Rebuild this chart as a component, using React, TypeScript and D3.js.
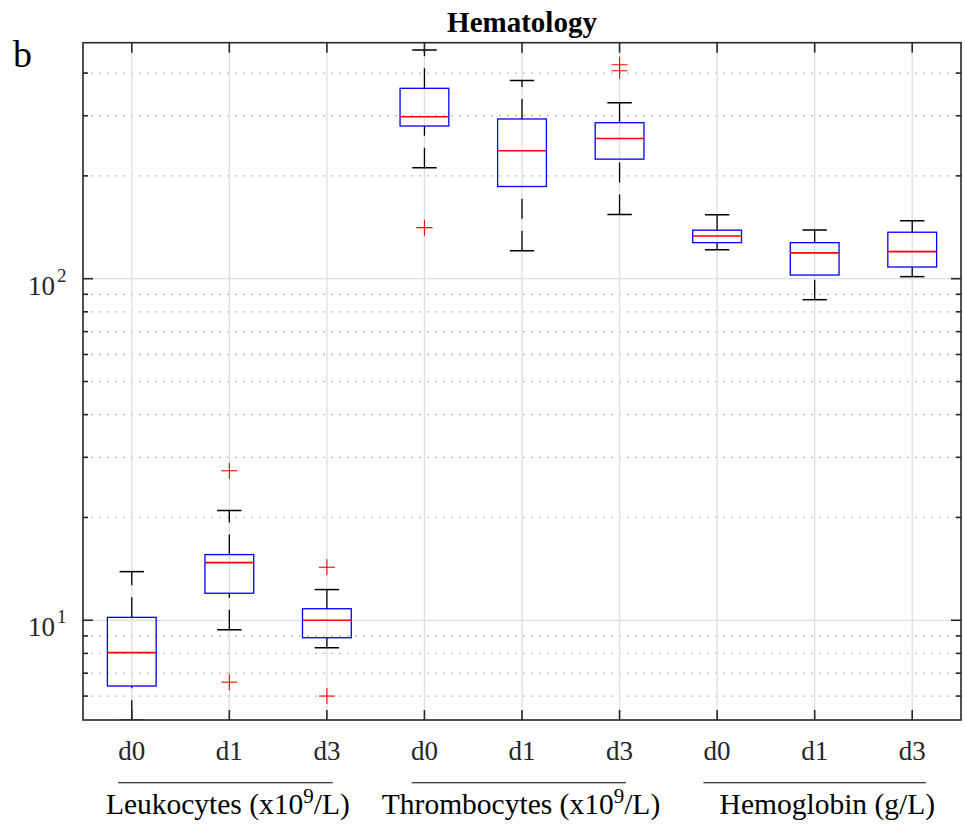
import React from 'react';
import * as d3 from 'd3';

// ---------- data ----------
const categories = ['d0', 'd1', 'd3', 'd0', 'd1', 'd3', 'd0', 'd1', 'd3'];
const whiskerLow = [5.1, 9.38, 8.31, 211.3, 120.8, 154.1, 121.6, 86.8, 101.4];
const quartile1 = [6.42, 12.0, 8.89, 279.9, 186.2, 223.9, 127.5, 102.5, 108.2];
const medians = [8.04, 14.75, 10.0, 298.0, 236.9, 257.4, 133.4, 119.0, 120.0];
const quartile3 = [10.2, 15.57, 10.81, 360.9, 293.5, 286.2, 138.7, 127.5, 136.8];
const whiskerHigh = [13.88, 20.96, 12.3, 467.2, 380.7, 327.6, 153.8, 138.9, 147.9];
const outliers = [[], [27.4, 6.59], [14.3, 6.0], [141.1], [], [406.4, 423.2], [], [], []];

const groupBase = ['Leukocytes (x10', 'Thrombocytes (x10', 'Hemoglobin (g/L)'];
const groupSup = ['9', '9', ''];
const groupTail = ['/L)', '/L)', ''];
const groupFirst = [1, 4, 7];
const groupLast = [3, 6, 9];

const yDomain = [5.106, 490.8];
const yMajorTicks = [10, 100];
const yMajorExp = ['1', '2'];
const yMinorTicks = [6, 7, 8, 9, 20, 30, 40, 50, 60, 70, 80, 90, 200, 300, 400];

const title = 'Hematology';
const panelLetter = 'b';

// ---------- layout ----------
const W = 965;
const H = 825;
const L = 83;
const R = 961;
const T = 42.7;
const B = 720;
const FONT = '"Liberation Serif", "Times New Roman", serif';
const AX = '#262626';

// group decoration offsets (category units)
const lineStartOff = [-0.14, -0.13, -0.14];
const lineEndOff = [0.06, 0.065, 0.14];
const labelOff = [-0.015, -0.01, 0.13];

export default function App() {
  const x = d3.scaleLinear().domain([0.5, 9.5]).range([L, R]);
  const y = d3.scaleLog().domain(yDomain).range([B, T]);
  const step = x(2) - x(1);
  const boxW = step * 0.5;
  const capW = step * 0.25;
  const idx = d3.range(categories.length);

  return (
    <svg
      width={W}
      height={H}
      style={{ position: 'absolute', left: 0, top: 0, background: '#fff' }}
      fontFamily={FONT}
    >
      <rect x={0} y={0} width={W} height={H} fill="#fff" />
      <defs>
        <clipPath id="plotclip">
          <rect x={L} y={T} width={R - L} height={B - T} />
        </clipPath>
      </defs>

      {/* grid */}
      <g>
        {yMinorTicks.map((v) => (
          <line
            key={'mg' + v}
            x1={L}
            x2={R}
            y1={y(v)}
            y2={y(v)}
            stroke="#bdbdbd"
            strokeWidth={1.3}
            strokeDasharray="2,6"
          />
        ))}
        {yMajorTicks.map((v) => (
          <line key={'Mg' + v} x1={L} x2={R} y1={y(v)} y2={y(v)} stroke="#dedede" strokeWidth={1.3} />
        ))}
        {idx.map((i) => (
          <line key={'vg' + i} x1={x(i + 1)} x2={x(i + 1)} y1={T} y2={B} stroke="#dedede" strokeWidth={1.3} />
        ))}
      </g>

      {/* boxes */}
      <g clipPath="url(#plotclip)">
        {idx.map((i) => {
          const cx = x(i + 1);
          return (
            <g key={'b' + i}>
              <line
                x1={cx}
                x2={cx}
                y1={y(whiskerLow[i])}
                y2={y(quartile1[i])}
                stroke="#000"
                strokeWidth={1.3}
                strokeDasharray="20,12"
              />
              <line
                x1={cx}
                x2={cx}
                y1={y(quartile3[i])}
                y2={y(whiskerHigh[i])}
                stroke="#000"
                strokeWidth={1.3}
                strokeDasharray="20,12"
              />
              <line x1={cx - capW / 2} x2={cx + capW / 2} y1={y(whiskerLow[i])} y2={y(whiskerLow[i])} stroke="#000" strokeWidth={1.5} />
              <line x1={cx - capW / 2} x2={cx + capW / 2} y1={y(whiskerHigh[i])} y2={y(whiskerHigh[i])} stroke="#000" strokeWidth={1.5} />
              <rect
                x={cx - boxW / 2}
                y={y(quartile3[i])}
                width={boxW}
                height={y(quartile1[i]) - y(quartile3[i])}
                fill="none"
                stroke="#0000ff"
                strokeWidth={1.3}
              />
              <line x1={cx - boxW / 2} x2={cx + boxW / 2} y1={y(medians[i])} y2={y(medians[i])} stroke="#ff0000" strokeWidth={1.6} />
              {outliers[i].map((v, j) => (
                <g key={'o' + j} stroke="#ff0000" strokeWidth={1.1}>
                  <line x1={cx - 8} x2={cx + 8} y1={y(v)} y2={y(v)} />
                  <line x1={cx} x2={cx} y1={y(v) - 8} y2={y(v) + 8} />
                </g>
              ))}
            </g>
          );
        })}
      </g>

      {/* frame and ticks */}
      <rect x={L} y={T} width={R - L} height={B - T} fill="none" stroke={AX} strokeWidth={1.6} />
      {yMajorTicks.map((v) => (
        <g key={'yt' + v} stroke={AX} strokeWidth={1.6}>
          <line x1={L} x2={L + 10} y1={y(v)} y2={y(v)} />
          <line x1={R} x2={R - 10} y1={y(v)} y2={y(v)} />
        </g>
      ))}
      {yMinorTicks.map((v) => (
        <g key={'ym' + v} stroke={AX} strokeWidth={1.6}>
          <line x1={L} x2={L + 5} y1={y(v)} y2={y(v)} />
          <line x1={R} x2={R - 5} y1={y(v)} y2={y(v)} />
        </g>
      ))}
      {idx.map((i) => (
        <g key={'xt' + i} stroke={AX} strokeWidth={1.6}>
          <line x1={x(i + 1)} x2={x(i + 1)} y1={B} y2={B - 10} />
          <line x1={x(i + 1)} x2={x(i + 1)} y1={T} y2={T + 10} />
        </g>
      ))}

      {/* y tick labels */}
      {yMajorTicks.map((v, k) => (
        <g key={'yl' + v} fill={AX}>
          <text x={55} y={y(v) + 16} fontSize={27} textAnchor="end">
            10
          </text>
          <text x={57} y={y(v) + 3} fontSize={19} textAnchor="start">
            {yMajorExp[k]}
          </text>
        </g>
      ))}

      {/* x tick labels */}
      {categories.map((c, i) => (
        <text key={'xl' + i} x={x(i + 1)} y={759.5} fontSize={27} textAnchor="middle" fill={AX}>
          {c}
        </text>
      ))}

      {/* group lines and labels */}
      {groupBase.map((g, k) => {
        const cx = x((groupFirst[k] + groupLast[k]) / 2 + labelOff[k]);
        return (
          <g key={'g' + k}>
            <line
              x1={x(groupFirst[k] + lineStartOff[k])}
              x2={x(groupLast[k] + lineEndOff[k])}
              y1={782.7}
              y2={782.7}
              stroke="#000"
              strokeWidth={1.1}
            />
            <text x={cx} y={814.3} fontSize={29.5} textAnchor="middle" fill="#000">
              <tspan>{g}</tspan>
              {groupSup[k] ? (
                <tspan dy={-11} fontSize={21}>
                  {groupSup[k]}
                </tspan>
              ) : null}
              {groupTail[k] ? <tspan dy={11}>{groupTail[k]}</tspan> : null}
            </text>
          </g>
        );
      })}

      {/* title and panel letter */}
      <text x={(L + R) / 2} y={32} fontSize={29} fontWeight="bold" textAnchor="middle" fill="#000">
        {title}
      </text>
      <text x={13} y={66.5} fontSize={38} fill="#000">
        {panelLetter}
      </text>
    </svg>
  );
}
